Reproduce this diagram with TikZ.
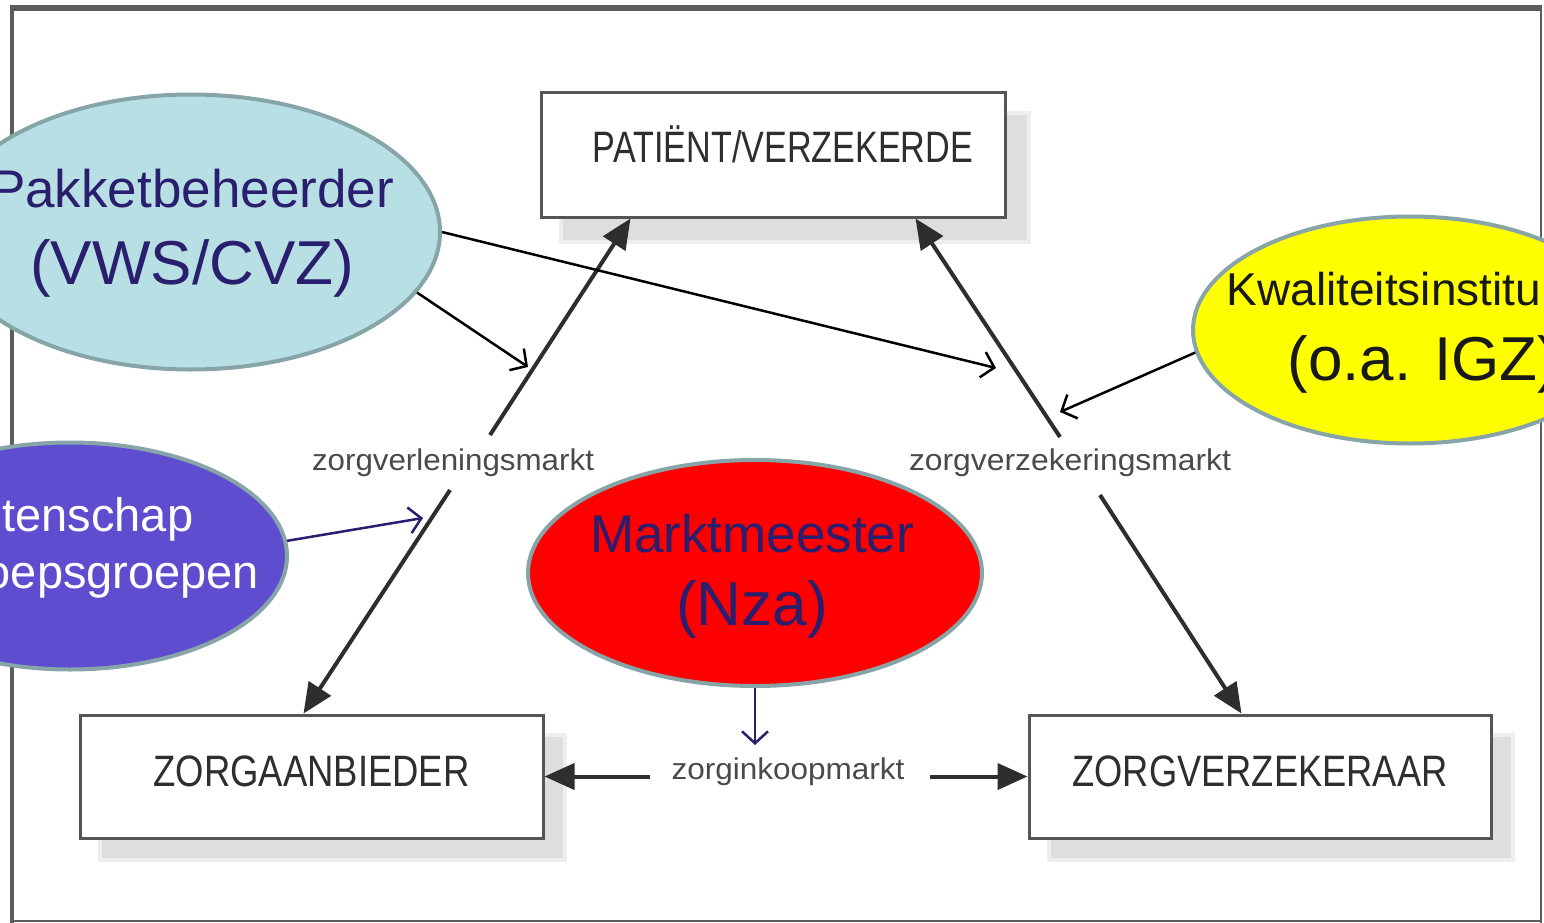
\documentclass[tikz,border=0pt]{standalone}
\usepackage{fontspec}
\setmainfont{Liberation Sans}
\usetikzlibrary{arrows.meta,shapes.geometric,calc}
\definecolor{navy}{HTML}{2A1E6E}
\definecolor{ebord}{HTML}{87A5A8}
\definecolor{lblue}{HTML}{B8DFE3}
\definecolor{purp}{HTML}{5E4DCE}
\definecolor{yel}{HTML}{FFFF00}
\definecolor{boxline}{HTML}{555555}
\definecolor{thk}{HTML}{2E2E2E}
\definecolor{lbltxt}{HTML}{4A4A4A}
\definecolor{frm}{HTML}{5C5C5C}
\begin{document}
\begin{tikzpicture}[x=1pt,y=-1pt,
  actor/.style={rectangle, draw=boxline, line width=3pt, fill=white, inner sep=0pt,
    text=thk, font=\fontsize{44}{44}\selectfont, text height=32pt},
  shade1/.style={fill=gray!13, draw=none},
  shade2/.style={fill=gray!26, draw=none},
  mkt/.style={inner sep=0pt, text=lbltxt, font=\fontsize{30}{30}\selectfont},
  bigarr/.style={draw=thk, line width=4pt, -{Triangle[length=30pt,width=26pt]}},
  thinarr/.style={draw=black, line width=2.5pt, -{Straight Barb[length=12pt,width=26pt,line width=2.5pt]}},
  bubble/.style={ellipse, draw=ebord, line width=4pt, inner sep=0pt},
  btext/.style={align=center, inner sep=0pt}
]
\useasboundingbox (0,0) rectangle (1544,923);
\clip (0,0) rectangle (1544,923);
\fill[white] (0,0) rectangle (1544,923);
% frame
\draw[frm, line width=6pt] (10,8) -- (1542,8);
\draw[frm, line width=4pt] (12,6) -- (12,923);
\draw[frm, line width=2pt] (1541,8) -- (1541,923);
\draw[frm, line width=2pt] (12,921) -- (1541,921);
% shadows
\fill[shade1] (559,111) rectangle (1031,244);
\fill[shade2] (563,115) rectangle (1027,240);
\fill[shade1] (98,733) rectangle (567,862);
\fill[shade2] (102,737) rectangle (563,858);
\fill[shade1] (1047,733) rectangle (1515,862);
\fill[shade2] (1051,737) rectangle (1511,858);
% boxes
\node[actor, minimum width=464pt, minimum height=124pt, text depth=18pt] (pat) at (773,155)
  {\hspace*{20pt}\resizebox{380pt}{\height}{PATIËNT/VERZEKERDE}};
\node[actor, minimum width=463pt, minimum height=123pt, text depth=13pt] (zab) at (311.5,776.5)
  {\resizebox{316pt}{\height}{ZORGAANBIEDER}};
\node[actor, minimum width=462pt, minimum height=123pt, text depth=13pt] (zvz) at (1260,776.5)
  {\resizebox{375pt}{\height}{ZORGVERZEKERAAR}};
% market labels
\node[mkt] (zvl) at (453,463) {\resizebox{282pt}{\height}{zorgverleningsmarkt}};
\node[mkt] (zvk) at (1070,463) {\resizebox{322pt}{\height}{zorgverzekeringsmarkt}};
\node[mkt] (zik) at (788,772) {\resizebox{233pt}{\height}{zorginkoopmarkt}};
% thick arrows
\draw[bigarr] ($(zvl)+(37,-28)$) -- ($(pat.south west)+(91,0)$);
\draw[bigarr] ($(zvl)+(-3,27)$) -- ($(zab.north west)+(225,0)$);
\draw[bigarr] ($(zvk)+(-10,-26)$) -- ($(pat.south west)+(376,0)$);
\draw[bigarr] ($(zvk)+(30,32)$) -- ($(zvz.north west)+(214,0)$);
\draw[bigarr] ($(zik)+(-138,4.5)$) -- (zab.east);
\draw[bigarr] ($(zik)+(142,4.5)$) -- (zvz.west);
% bubbles
\node[bubble, fill=lblue, minimum width=498pt, minimum height=275pt] (pak) at (191,232) {};
\node[btext, text=navy, font=\fontsize{53}{77}\selectfont] (pakt) at (192,233)
  {Pakketbeheerder\\\fontsize{62}{77}\selectfont (VWS/CVZ)};
\node[bubble, fill=yel, minimum width=434pt, minimum height=227pt] (kwal) at (1410,330) {};
\node[btext, text=black!90, font=\fontsize{46}{75}\selectfont] (kwalt) at (1403,333)
  {Kwaliteitsinstituut\\\fontsize{62}{75}\selectfont\hspace*{40pt}(o.a. IGZ)};
\node[bubble, fill=purp, minimum width=434pt, minimum height=227pt] (wet) at (70,556) {};
\node[btext, text=white, font=\fontsize{47}{57}\selectfont] (wett) at (63,548)
  {Wetenschap\\\hspace*{50pt}beroepsgroepen};
\node[bubble, fill=red, minimum width=454pt, minimum height=226pt] (nza) at (755,573) {};
\node[btext, text=navy, font=\fontsize{53}{73}\selectfont] (nzat) at (752,576)
  {Marktmeester\\\fontsize{62}{73}\selectfont (Nza)};
% thin arrows
\coordinate (t1) at (528,367);
\coordinate (t2) at (996,368);
\coordinate (t3) at (1060,412);
\coordinate (t4) at (423,518);
\coordinate (t5) at (755,745);
\draw[thinarr] (pak.-15.6) -- (t1);
\draw[thinarr] (pak.east) -- (t2);
\draw[thinarr] (kwal.186) -- (t3);
\draw[thinarr, draw=navy] (wet.4) -- (t4);
\draw[thinarr, draw=navy] (nza.south) -- (t5);
\end{tikzpicture}
\end{document}
